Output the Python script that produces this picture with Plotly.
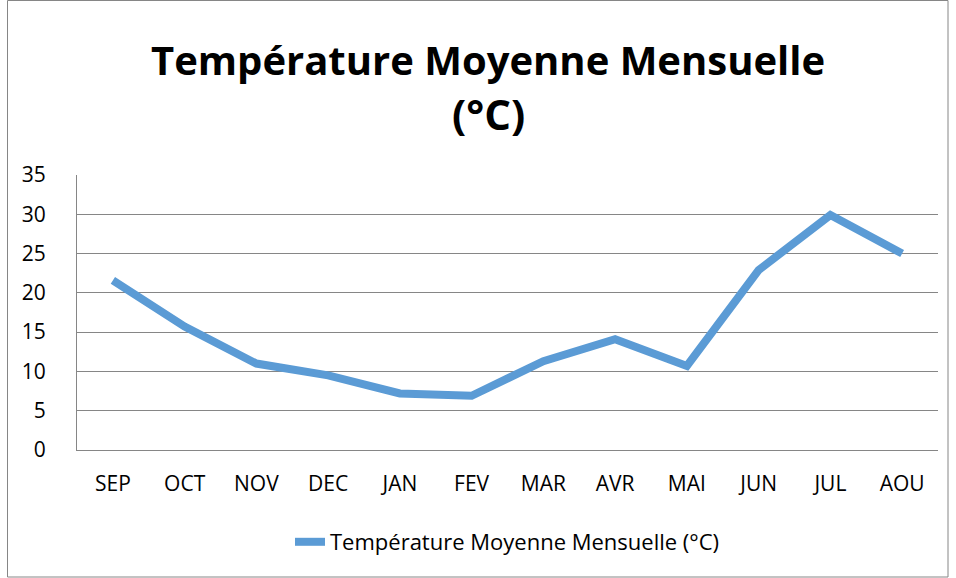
import plotly.graph_objects as go

months = ["SEP", "OCT", "NOV", "DEC", "JAN", "FEV", "MAR", "AVR", "MAI", "JUN", "JUL", "AOU"]
temperatures = [21.6, 15.7, 11.0, 9.5, 7.2, 6.9, 11.3, 14.1, 10.7, 22.9, 29.9, 25.0]
y_ticks = [0, 5, 10, 15, 20, 25, 30, 35]
series_name = "Température Moyenne Mensuelle (°C)"
title_lines = ["Température Moyenne Mensuelle", "(°C)"]

fig = go.Figure()
fig.add_trace(go.Scatter(
    x=months, y=temperatures, mode="lines", name=series_name,
    line=dict(color="#5B9BD5", width=8), showlegend=True,
))

W, H = 956, 578
L, R, T, B = 77, 18, 175, 128
pw, ph = W - L - R, H - T - B

def px_x(x):
    return (x - L) / pw

def px_y(y):
    return (H - B - y) / ph

title_annotations = [
    dict(text=f"<b>{t}</b>", xref="paper", yref="paper", x=px_x(488), y=px_y(yc),
         xanchor="center", yanchor="middle", showarrow=False,
         font=dict(family="Open Sans, sans-serif", size=sz, color="#000000"))
    for t, yc, sz in zip(title_lines, [60, 114], [40, 42])
]

fig.update_layout(
    width=W, height=H,
    margin=dict(l=L, r=R, t=T, b=B),
    paper_bgcolor="white", plot_bgcolor="white",
    font=dict(family="Open Sans, Lato, sans-serif", size=21, color="#000000"),
    annotations=title_annotations,
    xaxis=dict(
        type="category", range=[-0.5, 11.5], showgrid=False,
        showline=True, linecolor="#868686", linewidth=1, ticks="",
        tickfont=dict(size=21), ticklabelstandoff=15,
    ),
    yaxis=dict(
        range=[0, 35], tickvals=y_ticks, showgrid=True, gridcolor="#868686", gridwidth=1,
        showline=True, linecolor="#868686", linewidth=1, ticks="", zeroline=False,
        tickfont=dict(size=21), ticklabelstandoff=26,
    ),
    legend=dict(
        orientation="h", x=0.5, xanchor="center", y=px_y(542), yanchor="middle",
        font=dict(size=22),
    ),
    shapes=[dict(
        type="rect", xref="paper", yref="paper",
        x0=px_x(7.5), x1=px_x(948), y0=px_y(577), y1=px_y(0.5),
        line=dict(color="#868686", width=1), fillcolor="rgba(0,0,0,0)", layer="below",
    )],
)

fig.write_html("out.html", config={"displayModeBar": False},
               post_script="document.body.style.margin='0';")
